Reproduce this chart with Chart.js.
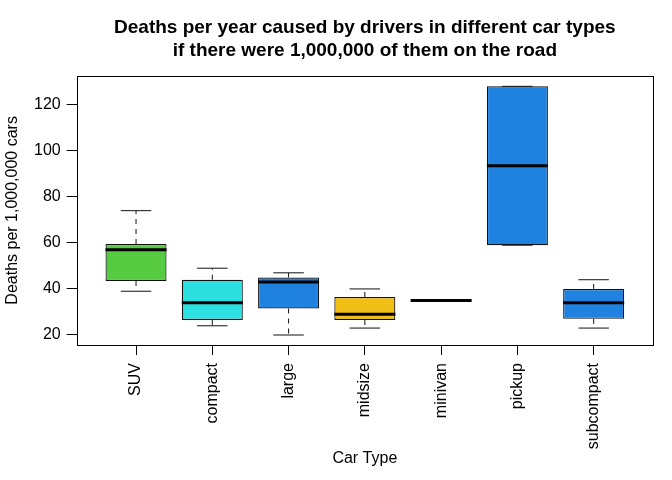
<!DOCTYPE html>
<html>
<head>
<meta charset="utf-8">
<script src="https://cdn.jsdelivr.net/npm/chart.js@4.4.1/dist/chart.umd.min.js"></script>
<style>
  html, body { margin: 0; padding: 0; background: #fff; }
  #c { display: block; }
</style>
</head>
<body>
<canvas id="c" width="672" height="480"></canvas>
<script>
// ---- data ----
const categories = ["SUV", "compact", "large", "midsize", "minivan", "pickup", "subcompact"];
const whiskerLow  = [39.0, 24.0, 20.0, 23.0, 34.7, 59.0, 23.0];
const quartile1   = [43.5, 26.5, 31.5, 26.5, 34.9, 59.0, 27.0];
const medians     = [57.0, 34.0, 43.0, 29.0, 35.0, 93.5, 34.0];
const quartile3   = [59.5, 44.0, 45.0, 36.5, 35.1, 128.0, 40.0];
const whiskerHigh = [74.0, 49.0, 47.0, 40.0, 35.3, 128.0, 44.0];
const boxColors   = ["#56CB41", "#2CDFE0", "#1F82E0", "#F2BF17", "#1F82E0", "#1F82E0", "#1F82E0"];
const yTickValues = [20, 40, 60, 80, 100, 120];
const titleLines  = ["Deaths per year caused by drivers in different car types", "if there were 1,000,000 of them on the road"];

const FONT = "'Liberation Sans', Arial, Helvetica, sans-serif";

const boxParts = {
  id: 'boxParts',
  beforeDatasetsDraw(chart) {
    const ctx = chart.ctx, ys = chart.scales.y;
    const meta = chart.getDatasetMeta(0);
    meta.data.forEach((bar, i) => {
      const x = bar.x, cap = bar.width / 4;
      const pHi = ys.getPixelForValue(whiskerHigh[i]);
      const pLo = ys.getPixelForValue(whiskerLow[i]);
      const pQ3 = ys.getPixelForValue(quartile3[i]);
      const pQ1 = ys.getPixelForValue(quartile1[i]);
      ctx.save();
      ctx.strokeStyle = '#111';
      ctx.lineWidth = 1;
      ctx.setLineDash([5, 5]);
      ctx.beginPath();
      ctx.moveTo(x, pQ3); ctx.lineTo(x, pHi);
      ctx.moveTo(x, pQ1); ctx.lineTo(x, pLo);
      ctx.stroke();
      ctx.setLineDash([]);
      ctx.beginPath();
      ctx.moveTo(x - cap, pHi); ctx.lineTo(x + cap, pHi);
      ctx.moveTo(x - cap, pLo); ctx.lineTo(x + cap, pLo);
      ctx.stroke();
      ctx.restore();
    });
  },
  afterDatasetsDraw(chart) {
    const ctx = chart.ctx, ys = chart.scales.y;
    const meta = chart.getDatasetMeta(0);
    meta.data.forEach((bar, i) => {
      const x = bar.x, half = bar.width / 2;
      const pm = ys.getPixelForValue(medians[i]);
      ctx.save();
      ctx.strokeStyle = '#000';
      ctx.lineWidth = 3;
      ctx.beginPath();
      ctx.moveTo(x - half, pm); ctx.lineTo(x + half, pm);
      ctx.stroke();
      ctx.restore();
    });
  },
  afterDraw(chart) {
    const a = chart.chartArea, ctx = chart.ctx;
    ctx.save();
    ctx.strokeStyle = '#000';
    ctx.lineWidth = 1;
    ctx.strokeRect(Math.round(a.left) + 0.5, Math.round(a.top) + 0.5,
                   Math.round(a.right - a.left), Math.round(a.bottom - a.top));
    ctx.restore();
  }
};

new Chart(document.getElementById('c'), {
  type: 'bar',
  data: {
    datasets: [{
      data: categories.map((c, i) => ({ x: i + 1, y: [quartile1[i], quartile3[i]] })),
      backgroundColor: boxColors,
      borderColor: '#111',
      borderWidth: 1.2,
      borderSkipped: false,
      categoryPercentage: 1.0,
      barPercentage: 0.8
    }]
  },
  options: {
    responsive: false,
    animation: false,
    devicePixelRatio: 1,
    layout: { padding: { left: 0, right: 19, top: 0, bottom: 0 } },
    plugins: {
      legend: { display: false },
      tooltip: { enabled: false },
      title: {
        display: true,
        text: titleLines,
        fullSize: false,
        color: '#000',
        font: { family: FONT, size: 19, weight: 'bold', lineHeight: 1.23 },
        padding: { top: 16, bottom: 13 }
      }
    },
    scales: {
      x: {
        type: 'linear',
        offset: false,
        min: 0.222,
        max: 7.778,
        afterBuildTicks: (s) => { s.ticks = categories.map((c, i) => ({ value: i + 1 })); },
        afterFit: (s) => { s.height = 135; },
        ticks: {
          callback: (v) => categories[v - 1],
          minRotation: 90,
          maxRotation: 90,
          autoSkip: false,
          padding: 8,
          color: '#000',
          font: { family: FONT, size: 16 }
        },
        grid: { display: true, offset: false, drawOnChartArea: false, drawTicks: true, tickLength: 10, color: '#000', lineWidth: 1 },
        border: { display: false },
        title: {
          display: true,
          text: 'Car Type',
          color: '#000',
          font: { family: FONT, size: 16 },
          padding: { top: 0, bottom: 12 }
        }
      },
      y: {
        min: 15.65,
        max: 132.6,
        afterBuildTicks: (s) => { s.ticks = yTickValues.map(v => ({ value: v })); },
        afterFit: (s) => { s.width = 76.7; },
        ticks: {
          padding: 6,
          color: '#000',
          font: { family: FONT, size: 16 }
        },
        grid: { display: true, drawOnChartArea: false, drawTicks: true, tickLength: 10, color: '#000', lineWidth: 1 },
        border: { display: false },
        title: {
          display: true,
          text: 'Deaths per 1,000,000 cars',
          color: '#000',
          font: { family: FONT, size: 16 },
          padding: { top: 3, bottom: 0 }
        }
      }
    }
  },
  plugins: [boxParts]
});
</script>
</body>
</html>
